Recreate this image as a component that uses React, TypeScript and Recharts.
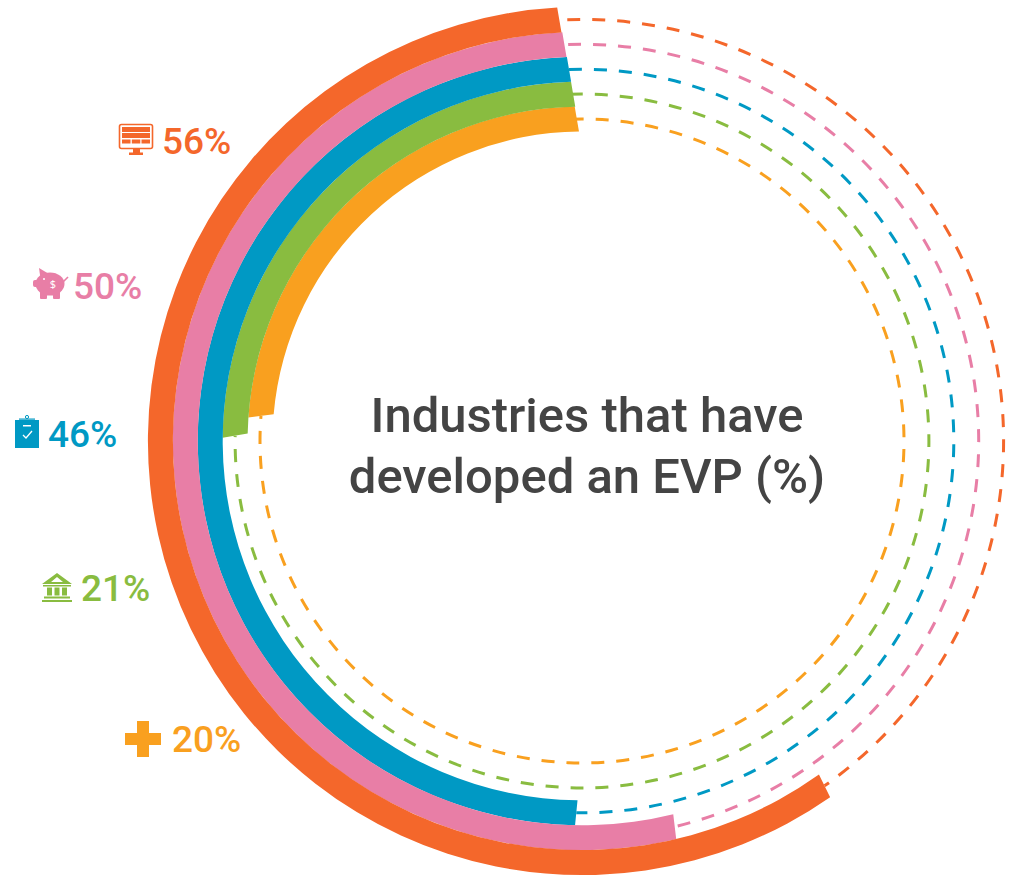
import React from 'react';
import { RadialBarChart, RadialBar, PolarAngleAxis, PolarRadiusAxis } from 'recharts';

const industries = ['Technology', 'Finance', 'Services', 'Public sector', 'Healthcare'];
const shares = [56, 50, 46, 21, 20];
const colors = ['#f4672b', '#e87ea6', '#0099c4', '#89bc40', '#f9a01f'];

const WIDTH = 1009;
const HEIGHT = 879;
const CX = 582;
const CY = 441;
const INNER_R = 309.5;
const OUTER_R = 434;

// the axis runs one full turn, bars leave from a little before zero
const AXIS_MIN = -3.2;
const AXIS_MAX = 96.8;
const START_ANGLE = 92;

// ring ends are cut along lines that meet here instead of at the centre
const PIVOT = { x: 38, y: -71 };
const START_SLANT = 0.0217;

// rows go inner ring first, the radius axis grows outwards
const rows = industries
  .map((name, i) => ({ name, share: shares[i], range: [AXIS_MIN, shares[i]], color: colors[i] }))
  .reverse();

const polar = (r: number, deg: number) => {
  const a = (deg * Math.PI) / 180;
  return { x: r * Math.cos(a), y: -r * Math.sin(a) };
};

// where the cut through the ring's mid point reaches radius r
const cutPoint = (midR: number, deg: number, r: number) => {
  const m = polar(midR, deg);
  const len = Math.hypot(m.x - PIVOT.x, m.y - PIVOT.y);
  const dx = (m.x - PIVOT.x) / len;
  const dy = (m.y - PIVOT.y) / len;
  const dot = m.x * dx + m.y * dy;
  const t = -dot + Math.sqrt(dot * dot - midR * midR + r * r);
  return { x: m.x + t * dx, y: m.y + t * dy };
};

const RingBar = (props: any) => {
  const { cx, cy, innerRadius, outerRadius, startAngle, endAngle, payload } = props;
  const midR = (innerRadius + outerRadius) / 2;
  const from = startAngle + START_SLANT * (midR - (INNER_R + OUTER_R) / 2);

  const a = cutPoint(midR, from, outerRadius);
  const b = cutPoint(midR, endAngle, outerRadius);
  const c = cutPoint(midR, endAngle, innerRadius);
  const d = cutPoint(midR, from, innerRadius);
  const large = endAngle - from > 180 ? 1 : 0;
  const bar =
    `M${cx + a.x},${cy + a.y} A${outerRadius},${outerRadius} 0 ${large} 0 ${cx + b.x},${cy + b.y} ` +
    `L${cx + c.x},${cy + c.y} A${innerRadius},${innerRadius} 0 ${large} 1 ${cx + d.x},${cy + d.y} Z`;

  // dashed remainder of the turn, clockwise from the top
  const p = polar(midR, startAngle);
  const q = polar(midR, endAngle);
  const restLarge = 360 - (endAngle - startAngle) > 180 ? 1 : 0;
  const rest = `M${cx + p.x},${cy + p.y} A${midR},${midR} 0 ${restLarge} 1 ${cx + q.x},${cy + q.y}`;

  return (
    <g>
      <path d={rest} fill="none" stroke={payload.color} strokeWidth={3} strokeDasharray="13 12" />
      <path d={bar} fill={payload.color} />
    </g>
  );
};

const ComputerIcon = ({ color }: { color: string }) => (
  <g fill={color}>
    <rect x={119.5} y={124.5} width={33} height={24} rx={2} fill="none" stroke={color} strokeWidth={1.6} />
    <rect x={122} y={127} width={28} height={5} />
    <rect x={122} y={133} width={28} height={5} />
    <rect x={122} y={139.5} width={8.5} height={4} />
    <rect x={131.8} y={139.5} width={8.5} height={4} />
    <rect x={141.5} y={139.5} width={8.5} height={4} />
    <rect x={133} y={149} width={7} height={4} />
    <rect x={129} y={152.5} width={14} height={2.5} />
  </g>
);

const PiggyIcon = ({ color }: { color: string }) => (
  <g fill={color}>
    <ellipse cx={50} cy={284} rx={14.5} ry={11.5} />
    <path d="M39,268 L49,274 L41,282 Z" />
    <rect x={33} y={280} width={6} height={7} rx={2} />
    <rect x={40} y={291} width={7} height={8} rx={1} />
    <rect x={53} y={291} width={7} height={8} rx={1} />
    <path d="M63,282 L68,277" stroke={color} strokeWidth={1.6} />
    <circle cx={44} cy={279} r={1} fill="#fff" />
    <text x={53} y={288} fontSize={11} fontFamily="Noto Sans" fill="#fff" textAnchor="middle">$</text>
  </g>
);

const ClipboardIcon = ({ color }: { color: string }) => (
  <g fill={color}>
    <rect x={15} y={420} width={24} height={28} />
    <rect x={19} y={418.5} width={16} height={1.2} />
    <circle cx={27} cy={417} r={1.6} fill="none" stroke={color} strokeWidth={1} />
    <rect x={23} y={425} width={8} height={1.5} fill="#fff" />
    <path d="M23,435 L26,438 L32,431" fill="none" stroke="#fff" strokeWidth={1.3} />
  </g>
);

const BankIcon = ({ color }: { color: string }) => (
  <g fill={color}>
    <path fillRule="evenodd" d="M57,573 L72,584 L42,584 Z M57,577 L51,582 L63,582 Z" />
    <rect x={43} y={585} width={28} height={1.5} />
    <rect x={47} y={587.5} width={5} height={8} />
    <rect x={54.5} y={587.5} width={5} height={8} />
    <rect x={62} y={587.5} width={5} height={8} />
    <rect x={44} y={596.5} width={26} height={2} />
    <rect x={42} y={600} width={30} height={2} />
  </g>
);

const PlusIcon = ({ color }: { color: string }) => (
  <path fill={color} d="M137,721 H149 V733 H161 V745 H149 V757 H137 V745 H125 V733 H137 Z" />
);

const icons = [ComputerIcon, PiggyIcon, ClipboardIcon, BankIcon, PlusIcon];
const labelAnchors = [
  { x: 162, y: 153.5 },
  { x: 73, y: 299 },
  { x: 48, y: 447 },
  { x: 81, y: 601 },
  { x: 172, y: 751.5 },
];

export default function App() {
  return (
    <div style={{ position: 'absolute', left: 0, top: 0, width: WIDTH, height: HEIGHT }}>
      <RadialBarChart
        width={WIDTH}
        height={HEIGHT}
        data={rows}
        cx={CX}
        cy={CY}
        innerRadius={INNER_R}
        outerRadius={OUTER_R}
        startAngle={START_ANGLE}
        endAngle={START_ANGLE + 360}
        barCategoryGap={0}
        margin={{ top: 0, right: 0, bottom: 0, left: 0 }}
      >
        <PolarAngleAxis type="number" domain={[AXIS_MIN, AXIS_MAX]} tick={false} axisLine={false} />
        <PolarRadiusAxis type="category" dataKey="name" tick={false} axisLine={false} />
        <RadialBar dataKey="range" isAnimationActive={false} shape={(p: any) => <RingBar {...p} />} />
      </RadialBarChart>

      <svg width={WIDTH} height={HEIGHT} style={{ position: 'absolute', left: 0, top: 0, pointerEvents: 'none' }}>
        <g fontFamily="Roboto, sans-serif" fontWeight={500} fontSize={49} fill="#444444" textAnchor="middle">
          <text x={587} y={432}>Industries that have</text>
          <text x={587} y={493}>developed an EVP (%)</text>
        </g>
        {shares.map((share, i) => {
          const Icon = icons[i];
          return (
            <g key={industries[i]}>
              <Icon color={colors[i]} />
              <text
                x={labelAnchors[i].x}
                y={labelAnchors[i].y}
                fontFamily="Roboto, sans-serif"
                fontWeight={500}
                fontSize={37}
                fill={colors[i]}
              >
                {share}%
              </text>
            </g>
          );
        })}
      </svg>
    </div>
  );
}
